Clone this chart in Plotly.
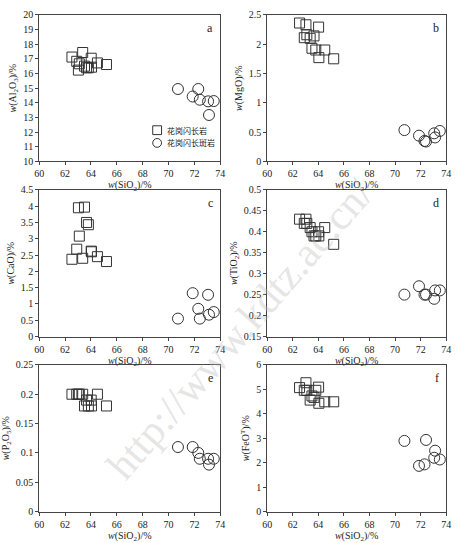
import plotly.graph_objects as go

# Granodiorite (squares) and granodiorite porphyry (circles)
sio2_gd = [62.53, 62.9, 63.03, 63.1, 63.36, 63.5, 63.66, 63.8, 64.02, 64.04, 64.5, 65.2]
al2o3_gd = [17.12, 16.83, 16.23, 16.66, 17.43, 16.5, 16.39, 16.39, 17.04, 16.43, 16.72, 16.61]
mgo_gd = [2.36, 2.11, 2.33, 2.16, 2.10, 1.93, 2.14, 1.90, 2.29, 1.77, 1.90, 1.75]
cao_gd = [2.37, 2.68, 3.95, 3.08, 2.40, 3.97, 3.50, 3.43, 2.62, 2.60, 2.45, 2.30]
tio2_gd = [0.43, 0.42, 0.43, 0.42, 0.41, 0.40, 0.39, 0.39, 0.40, 0.39, 0.41, 0.37]
p2o5_gd = [0.20, 0.20, 0.20, 0.20, 0.20, 0.18, 0.19, 0.18, 0.19, 0.18, 0.20, 0.18]
feot_gd = [5.07, 4.96, 5.27, 4.96, 4.56, 4.73, 4.67, 4.96, 5.09, 4.43, 4.49, 4.49]

sio2_gp = [70.73, 71.87, 72.3, 72.42, 73.06, 73.13, 73.5]
al2o3_gp = [14.94, 14.43, 14.94, 14.21, 14.10, 13.17, 14.12]
mgo_gp = [0.535, 0.44, 0.35, 0.34, 0.48, 0.41, 0.52]
cao_gp = [0.55, 1.33, 0.85, 0.55, 1.28, 0.67, 0.75]
tio2_gp = [0.25, 0.27, 0.25, 0.25, 0.24, 0.26, 0.26]
p2o5_gp = [0.11, 0.11, 0.10, 0.09, 0.09, 0.08, 0.09]
feot_gp = [2.89, 1.87, 1.93, 2.93, 2.20, 2.49, 2.13]

panel_labels = ["a", "b", "c", "d", "e", "f"]
y_titles = ["<i>w</i>(Al<sub>2</sub>O<sub>3</sub>)/%", "<i>w</i>(MgO)/%", "<i>w</i>(CaO)/%",
            "<i>w</i>(TiO<sub>2</sub>)/%", "<i>w</i>(P<sub>2</sub>O<sub>5</sub>)/%", "<i>w</i>(FeO<sup>T</sup>)/%"]
y_ranges = [[10, 20], [0, 2.5], [0, 4.5], [0.15, 0.5], [0, 0.25], [0, 6]]
y_dticks = [1, 0.5, 0.5, 0.05, 0.05, 1]
x_title = "<i>w</i>(SiO<sub>2</sub>)/%"
legend_names = ["花岗闪长岩", "花岗闪长斑岩"]

gd_sets = [al2o3_gd, mgo_gd, cao_gd, tio2_gd, p2o5_gd, feot_gd]
gp_sets = [al2o3_gp, mgo_gp, cao_gp, tio2_gp, p2o5_gp, feot_gp]

W, H = 462, 543
xdoms = [[35 / W, 220 / W], [268 / W, 451 / W]]
rows_px = [(9, 159), (188, 338), (367, 517)]
ydoms = [[1 - b / H, 1 - t / H] for t, b in rows_px]

serif = "Liberation Serif"
fig = go.Figure()
layout = {}
annotations = []
shapes = []
for i in range(6):
    r, c = divmod(i, 2)
    n = "" if i == 0 else str(i + 1)
    xa, ya = "x" + n, "y" + n
    fig.add_trace(go.Scatter(x=sio2_gd, y=gd_sets[i], mode="markers", xaxis=xa, yaxis=ya,
                             name=legend_names[0], showlegend=False,
                             marker=dict(symbol="square-open", size=10, color="#333",
                                         line=dict(width=1, color="#333"))))
    fig.add_trace(go.Scatter(x=sio2_gp, y=gp_sets[i], mode="markers", xaxis=xa, yaxis=ya,
                             name=legend_names[1], showlegend=False,
                             marker=dict(symbol="circle-open", size=11, color="#333",
                                         line=dict(width=1, color="#333"))))
    axcommon = dict(showline=True, mirror=True, linecolor="#444", linewidth=1,
                    ticks="outside", ticklen=3, tickcolor="#444", showgrid=False,
                    zeroline=False, tickfont=dict(family=serif, size=10, color="#222"))
    layout["xaxis" + n] = dict(domain=xdoms[c], range=[60, 74], dtick=2, anchor=ya,
                               title=dict(text=x_title, font=dict(family=serif, size=10, color="#222"),
                                          standoff=1), **axcommon)
    layout["yaxis" + n] = dict(domain=ydoms[r], range=y_ranges[i], dtick=y_dticks[i], anchor=xa,
                               title=dict(text=y_titles[i], font=dict(family=serif, size=10, color="#222"),
                                          standoff=4), **axcommon)
    annotations.append(dict(text=panel_labels[i], xref=xa + " domain", yref=ya + " domain",
                            x=0.97, y=0.97, xanchor="right", yanchor="top", showarrow=False,
                            font=dict(family=serif, size=12, color="#222")))

# legend (panel a, lower right) drawn as shapes + text
leg_rows = [127, 140]
for k, yc in enumerate(leg_rows):
    shp = dict(type="rect" if k == 0 else "circle", xref="paper", yref="paper",
               x0=151 / W, x1=160 / W, y0=1 - (yc + 4.5) / H, y1=1 - (yc - 4.5) / H,
               line=dict(color="#333", width=1), fillcolor="rgba(0,0,0,0)")
    shapes.append(shp)
    annotations.append(dict(text=legend_names[k], xref="paper", yref="paper",
                            x=164 / W, y=1 - yc / H, xanchor="left", yanchor="middle",
                            showarrow=False,
                            font=dict(family="Noto Sans CJK SC", size=8, color="#222")))

annotations.append(dict(text="http://www.kdtz.ac.cn/", xref="paper", yref="paper",
                        x=240 / W, y=1 - 330 / H, showarrow=False, textangle=-49,
                        font=dict(family=serif, size=42, color="rgba(190,190,190,0.4)")))

fig.update_layout(width=W, height=H, margin=dict(l=0, r=0, t=0, b=0),
                  paper_bgcolor="white", plot_bgcolor="white",
                  annotations=annotations, shapes=shapes, showlegend=False,
                  **layout)
fig.write_html("out.html", config={"displayModeBar": False},
               post_script="document.body.style.margin='0px';document.body.style.overflow='hidden';")
